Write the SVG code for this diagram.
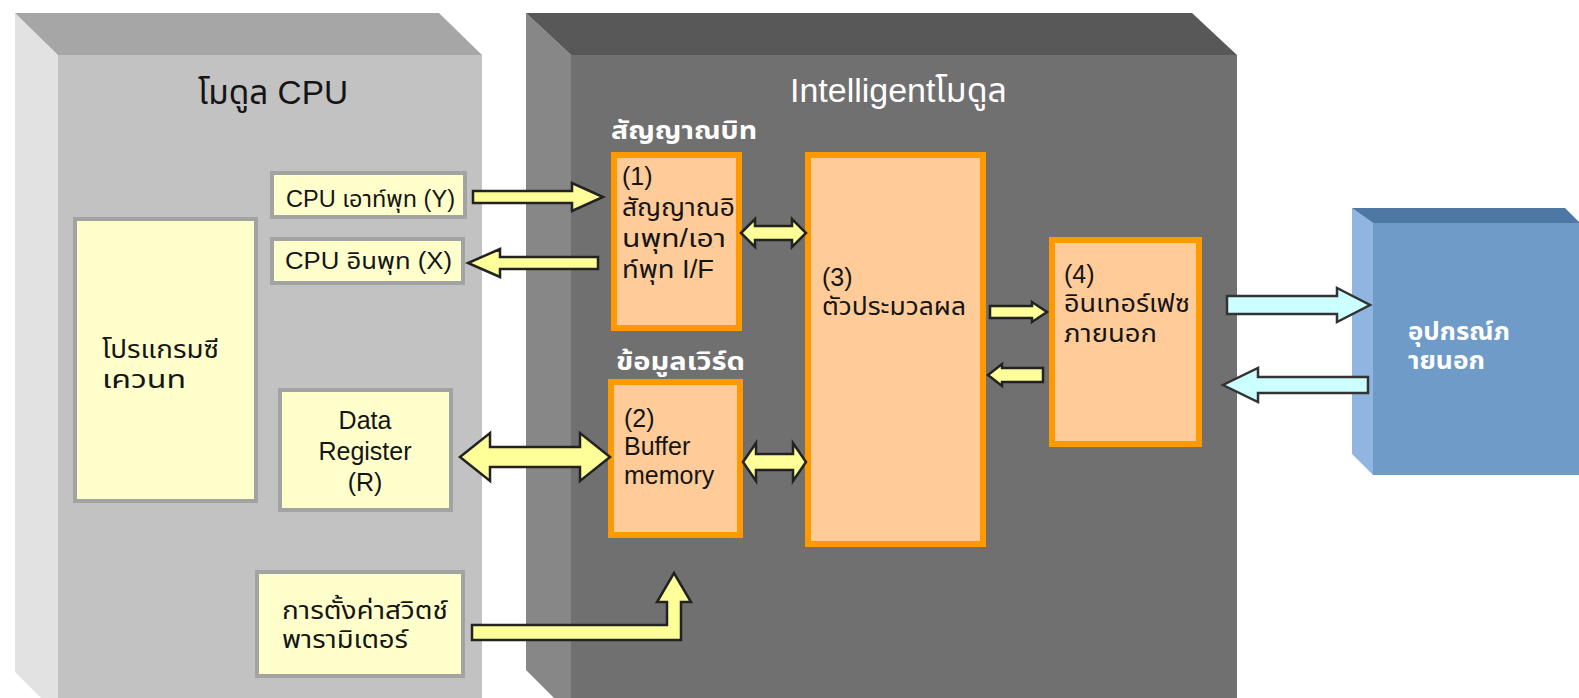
<svg xmlns="http://www.w3.org/2000/svg" width="1579" height="698" viewBox="0 0 1579 698">
  <defs>
    <style>
      .t { font-family: "Liberation Sans", "Noto Sans Thai", "Noto Sans", "DejaVu Sans", sans-serif; fill: #151515; }
      .w { fill: #ffffff; }
      .b { font-weight: bold; }
      .title { font-size: 33px; }
      .lbl { font-size: 25px; }
      .cpu { font-size: 23px; }
      .sub { font-size: 25px; font-weight: bold; }
      .ybox { fill: #ffffcc; stroke: #a3a3a3; stroke-width: 4; }
      .obox { fill: #ffcc99; stroke: #ff9900; stroke-width: 6; }
      .arr { fill: #ffff99; stroke: #222222; stroke-width: 2.5; stroke-linejoin: miter; }
      .carr { fill: #ccffff; stroke: #333333; stroke-width: 2.5; stroke-linejoin: miter; }
    </style>
  </defs>

  <rect x="0" y="0" width="1579" height="698" fill="#ffffff"/>

  <!-- CPU module housing -->
  <g id="cpu-module">
    <polygon points="15,13 58,55 58,715 15,672" fill="#e2e2e2"/>
    <polygon points="15,13 439,13 482,55 58,55" fill="#a6a6a6"/>
    <rect x="58" y="55" width="424" height="660" fill="#c2c2c2"/>
    <text class="t title" x="198" y="104" textLength="150" lengthAdjust="spacingAndGlyphs">โมดูล CPU</text>
  </g>

  <!-- Intelligent module housing -->
  <g id="intelligent-module">
    <polygon points="526,13 571,55 571,715 526,670" fill="#878787"/>
    <polygon points="526,13 1192,13 1237,55 571,55" fill="#585858"/>
    <rect x="571" y="55" width="666" height="660" fill="#707070"/>
    <text class="t w title" x="790" y="102" textLength="217" lengthAdjust="spacingAndGlyphs">Intelligentโมดูล</text>
    <text class="t w sub" x="611" y="139" textLength="146" lengthAdjust="spacingAndGlyphs">สัญญาณบิท</text>
    <text class="t w sub" x="616" y="370" textLength="129" lengthAdjust="spacingAndGlyphs">ข้อมูลเวิร์ด</text>
  </g>

  <!-- External device -->
  <g id="external-device">
    <polygon points="1352,208 1373,223 1373,475 1352,454" fill="#8fb5e0"/>
    <polygon points="1352,208 1565,208 1580,223 1373,223" fill="#4f77a3"/>
    <rect x="1373" y="223" width="210" height="252" fill="#6f9bc9"/>
    <text class="t w b lbl" x="1408" y="340" textLength="102" lengthAdjust="spacingAndGlyphs">อุปกรณ์ภ</text>
    <text class="t w b lbl" x="1408" y="369" textLength="77" lengthAdjust="spacingAndGlyphs">ายนอก</text>
  </g>

  <!-- CPU module contents -->
  <g id="cpu-output">
    <rect class="ybox" x="272" y="173" width="193" height="44"/>
    <text class="t cpu" x="286" y="207" textLength="169" lengthAdjust="spacingAndGlyphs">CPU เอาท์พุท (Y)</text>
  </g>
  <g id="cpu-input">
    <rect class="ybox" x="272" y="239" width="191" height="44"/>
    <text class="t cpu" x="285" y="269" textLength="167" lengthAdjust="spacingAndGlyphs">CPU อินพุท (X)</text>
  </g>
  <g id="sequence-program">
    <rect class="ybox" x="75" y="219" width="181" height="282"/>
    <text class="t lbl" x="102" y="358" textLength="117" lengthAdjust="spacingAndGlyphs">โปรแกรมซี</text>
    <text class="t lbl" x="102" y="388" textLength="84" lengthAdjust="spacingAndGlyphs">เควนท</text>
  </g>
  <g id="data-register">
    <rect class="ybox" x="280" y="390" width="171" height="120"/>
    <text class="t lbl" x="365" y="429" text-anchor="middle">Data</text>
    <text class="t lbl" x="365" y="460" text-anchor="middle">Register</text>
    <text class="t lbl" x="365" y="491" text-anchor="middle">(R)</text>
  </g>
  <g id="switch-parameters">
    <rect class="ybox" x="257" y="572" width="206" height="104"/>
    <text class="t lbl" x="282" y="619" textLength="166" lengthAdjust="spacingAndGlyphs">การตั้งค่าสวิตช์</text>
    <text class="t lbl" x="282" y="648" textLength="126" lengthAdjust="spacingAndGlyphs">พารามิเตอร์</text>
  </g>

  <!-- Intelligent module contents -->
  <g id="bit-io-interface">
    <rect class="obox" x="614" y="155" width="125" height="173"/>
    <text class="t lbl" x="622" y="185">(1)</text>
    <text class="t lbl" x="622" y="216" textLength="113" lengthAdjust="spacingAndGlyphs">สัญญาณอิ</text>
    <text class="t lbl" x="622" y="247" textLength="104" lengthAdjust="spacingAndGlyphs">นพุท/เอา</text>
    <text class="t lbl" x="622" y="278" textLength="92" lengthAdjust="spacingAndGlyphs">ท์พุท I/F</text>
  </g>
  <g id="buffer-memory">
    <rect class="obox" x="611" y="382" width="129" height="153"/>
    <text class="t lbl" x="624" y="427">(2)</text>
    <text class="t lbl" x="624" y="455">Buffer</text>
    <text class="t lbl" x="624" y="484">memory</text>
  </g>
  <g id="processor">
    <rect class="obox" x="808" y="155" width="175" height="389"/>
    <text class="t lbl" x="822" y="286">(3)</text>
    <text class="t lbl" x="822" y="315" textLength="144" lengthAdjust="spacingAndGlyphs">ตัวประมวลผล</text>
  </g>
  <g id="external-interface">
    <rect class="obox" x="1052" y="240" width="147" height="204"/>
    <text class="t lbl" x="1064" y="283">(4)</text>
    <text class="t lbl" x="1064" y="312" textLength="126" lengthAdjust="spacingAndGlyphs">อินเทอร์เฟซ</text>
    <text class="t lbl" x="1064" y="342" textLength="93" lengthAdjust="spacingAndGlyphs">ภายนอก</text>
  </g>

  <!-- Connectors -->
  <g id="connectors">
    <polygon class="arr" points="473,191 572,191 572,183 603,197 572,211 572,203 473,203"/>
    <polygon class="arr" points="598,257 500,257 500,249 468,263 500,277 500,269 598,269"/>
    <polygon class="arr" points="741,233 755,219 755,226 792,226 792,219 806,233 792,247 792,240 755,240 755,247"/>
    <polygon class="arr" points="460,457 490,433 490,447 580,447 580,433 610,457 580,481 580,467 490,467 490,481"/>
    <polygon class="arr" points="743,462 756,443 756,454 793,454 793,443 806,462 793,481 793,470 756,470 756,481"/>
    <polygon class="arr" points="990,306 1032,306 1032,302 1047,312 1032,322 1032,318 990,318"/>
    <polygon class="arr" points="1043,368 1002,368 1002,364 988,375 1002,386 1002,382 1043,382"/>
    <polygon class="arr" points="472,625 667,625 667,602 657,602 674,573 691,602 681,602 681,640 472,640"/>
    <polygon class="carr" points="1227,296 1337,296 1337,288 1370,305 1337,322 1337,314 1227,314"/>
    <polygon class="carr" points="1368,377 1258,377 1258,368 1223,385 1258,402 1258,393 1368,393"/>
  </g>
</svg>
